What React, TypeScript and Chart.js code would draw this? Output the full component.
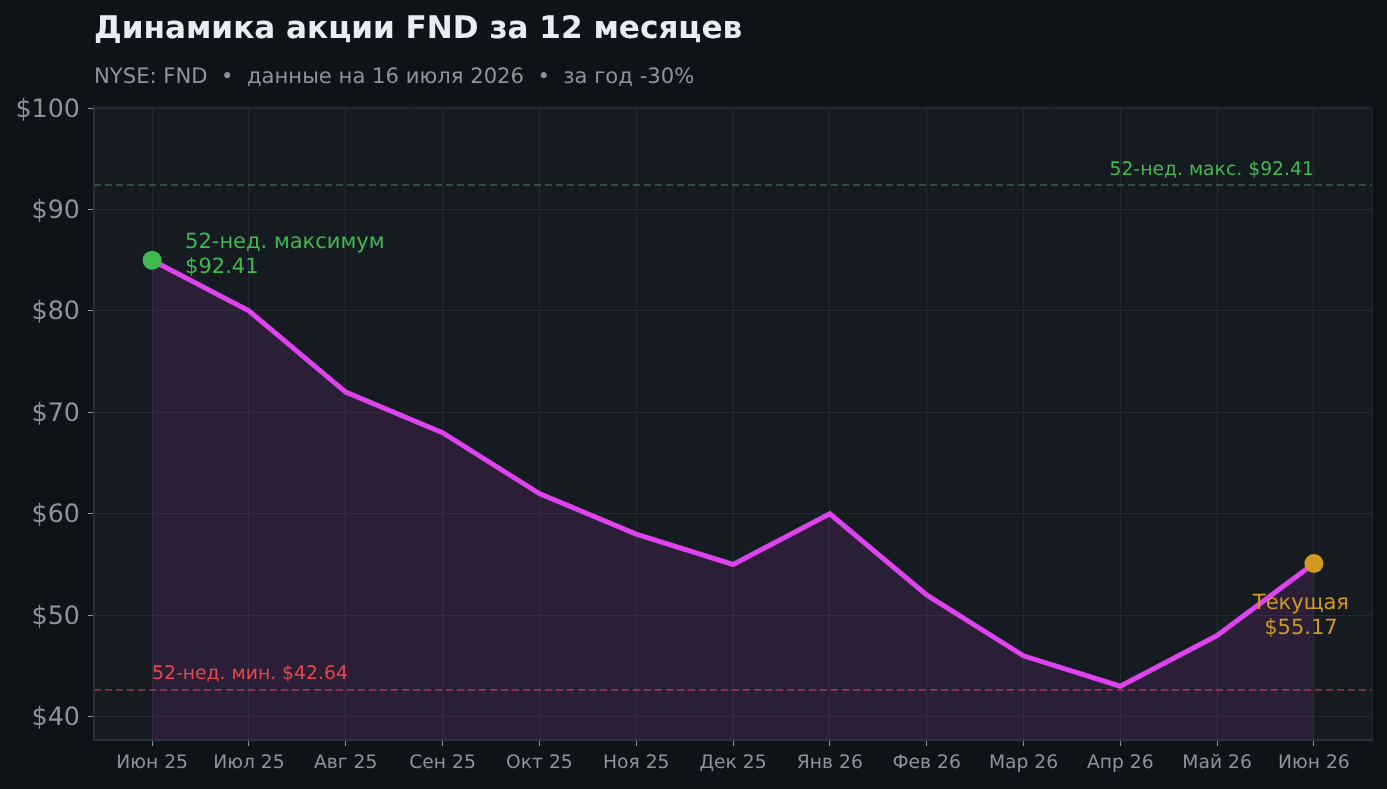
import React, { useEffect, useRef } from "react";
import { Chart, registerables } from "chart.js";

Chart.register(...registerables);

const months = ["Июн 25", "Июл 25", "Авг 25", "Сен 25", "Окт 25", "Ноя 25", "Дек 25", "Янв 26", "Фев 26", "Мар 26", "Апр 26", "Май 26", "Июн 26"];
const prices = [85, 80, 72, 68, 62, 58, 55, 60, 52, 46, 43, 48, 55.1];
const high52 = 92.41;
const low52 = 42.64;
const xRange = [-0.6, 12.6];
const yRange = [37.7, 100.1];
const titleText = "Динамика акции FND за 12 месяцев";
const subtitleText = "NYSE: FND  •  данные на 16 июля 2026  •  за год -30%";
const highCallout = ["52-нед. максимум", "$92.41"];
const currentCallout = ["Текущая", "$55.17"];
const highLineLabel = "52-нед. макс. $92.41";
const lowLineLabel = "52-нед. мин. $42.64";

const FONT = "'DejaVu Sans'";
const BG = "#0e1317";
const PLOT = "#161b22";
const GRID = "#252a32";
const SPINE = "#30363d";
const TICK = "#8b949e";
const LINE = "#dd44ee";
const GREEN = "#3fb950";
const RED = "#e5484d";
const GOLD = "#d29922";

const chrome = {
  id: "chrome",
  beforeDraw(chart: any) {
    const { ctx, chartArea: a } = chart;
    ctx.textRendering = "geometricPrecision";
    ctx.save();
    ctx.fillStyle = BG;
    ctx.fillRect(0, 0, chart.width, chart.height);
    ctx.fillStyle = PLOT;
    ctx.fillRect(a.left, a.top, a.right - a.left, a.bottom - a.top);
    ctx.restore();
  },
  afterDatasetsDraw(chart: any) {
    const { ctx, scales, chartArea: a } = chart;
    const x = scales.x;
    const y = scales.y;
    const txt = (s: string, px: number, py: number, color: string, font: string, align: CanvasTextAlign) => {
      ctx.font = font;
      ctx.fillStyle = color;
      ctx.textAlign = align;
      ctx.textBaseline = "middle";
      ctx.fillText(s, px, py);
    };
    ctx.save();
    ctx.strokeStyle = GRID;
    ctx.lineWidth = 1;
    ctx.strokeRect(a.left, a.top, a.right - a.left, a.bottom - a.top);

    const small = `18.8px ${FONT}`;
    const mid = `21px ${FONT}`;
    txt(titleText, 94, 30, "#e6edf3", `bold 31.1px ${FONT}`, "left");
    txt(subtitleText, 94, 78, TICK, `21.15px ${FONT}`, "left");

    const hx = x.getPixelForValue(0);
    const hy = y.getPixelForValue(prices[0]);
    highCallout.forEach((s, i) => txt(s, hx + 33, hy - 18 + i * 25, GREEN, mid, "left"));

    const cx = x.getPixelForValue(12);
    const cy = y.getPixelForValue(prices[12]);
    currentCallout.forEach((s, i) => txt(s, cx - 13, cy + 40 + i * 25, GOLD, mid, "center"));

    txt(highLineLabel, cx, y.getPixelForValue(high52) - 15, GREEN, small, "right");
    txt(lowLineLabel, hx, y.getPixelForValue(low52) - 16, RED, small, "left");
    ctx.restore();
  },
};

export default function App() {
  const ref = useRef<HTMLCanvasElement>(null);
  useEffect(() => {
    const last = prices.length - 1;
    const chart = new Chart(ref.current!, {
      type: "line",
      data: {
        datasets: [
          {
            label: "Цена",
            data: prices.map((v, i) => ({ x: i, y: v })),
            borderColor: LINE,
            borderWidth: 5,
            tension: 0,
            fill: "start",
            backgroundColor: "rgba(221,68,238,0.1)",
            pointRadius: prices.map((_, i) => (i === 0 || i === last ? 9.5 : 0)),
            pointBackgroundColor: prices.map((_, i) => (i === 0 ? GREEN : GOLD)),
            pointBorderWidth: 0,
            order: 1,
          },
          {
            label: "max",
            data: xRange.map((x) => ({ x, y: high52 })),
            borderColor: "rgba(63,185,80,0.5)",
            borderWidth: 1.6,
            borderDash: [7, 4],
            pointRadius: 0,
            fill: false,
            order: 2,
          },
          {
            label: "min",
            data: xRange.map((x) => ({ x, y: low52 })),
            borderColor: "rgba(229,72,77,0.55)",
            borderWidth: 1.6,
            borderDash: [7, 4],
            pointRadius: 0,
            fill: false,
            order: 2,
          },
        ],
      },
      options: {
        responsive: false,
        animation: false,
        devicePixelRatio: 1,
        layout: { padding: { top: 107, right: 15, left: 0, bottom: 0 } },
        plugins: { legend: { display: false }, tooltip: { enabled: false } },
        scales: {
          x: {
            type: "linear",
            min: xRange[0],
            max: xRange[1],
            grid: { color: GRID, lineWidth: 1, tickColor: TICK, tickLength: 6 },
            border: { color: SPINE, width: 2 },
            afterFit: (s: any) => { s.height = 49; },
            ticks: {
              stepSize: 1,
              includeBounds: false,
              autoSkip: false,
              maxRotation: 0,
              color: TICK,
              padding: 6,
              font: { family: FONT, size: 18.7 },
              callback: (v: any) => months[v] ?? "",
            },
          },
          y: {
            type: "linear",
            min: yRange[0],
            max: yRange[1],
            grid: { color: GRID, lineWidth: 1, tickColor: TICK, tickLength: 6 },
            border: { color: SPINE, width: 2 },
            afterFit: (s: any) => { s.width = 94; },
            ticks: {
              stepSize: 10,
              includeBounds: false,
              color: TICK,
              padding: 8,
              labelOffset: 2,
              font: { family: FONT, size: 25.4 },
              callback: (v: any) => `$${v}`,
            },
          },
        },
      } as any,
      plugins: [chrome],
    });
    return () => chart.destroy();
  }, []);
  return (
    <div style={{ position: "fixed", left: 0, top: 0, width: 1387, height: 789, background: BG }}>
      <canvas ref={ref} width={1387} height={789} style={{ display: "block" }} />
    </div>
  );
}
